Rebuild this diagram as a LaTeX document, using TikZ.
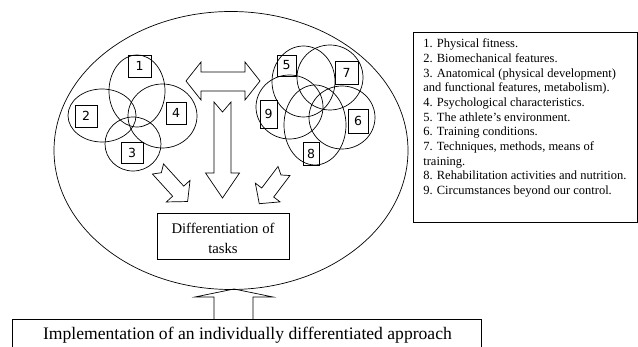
\documentclass[tikz,border=0pt]{standalone}
\usepackage{fontspec}
\setmainfont{Liberation Serif}
\newfontfamily\numfont{DejaVu Sans}
\begin{document}
\begin{tikzpicture}[x=1pt,y=-1pt,
  every path/.style={line width=0.7pt},
  numbox/.style={draw,inner sep=0pt,font=\numfont\fontsize{12.5}{12.5}\selectfont},
  ring/.style={draw},
  blockarrow/.style={draw,line join=miter},
  txtbox/.style={draw,inner sep=0pt,align=center}]
\useasboundingbox (0,0) rectangle (638,347);
% big ellipse
\draw[ring] (231,150.5) ellipse [x radius=177pt, y radius=139pt];
% left cluster numbered boxes
\node[numbox,minimum width=23pt,minimum height=22pt] (b1) at (139.5,66) {1};
\node[numbox,minimum width=22pt,minimum height=22pt] (b2) at (86,116) {2};
\node[numbox,minimum width=22pt,minimum height=21pt] (b3) at (132,152.5) {3};
\node[numbox,minimum width=20pt,minimum height=22pt] (b4) at (176,113) {4};
% right cluster numbered boxes
\node[numbox,minimum width=19pt,minimum height=21pt] (b5) at (286.5,65.5) {5};
\node[numbox,minimum width=23pt,minimum height=23pt] (b7) at (346.5,72.5) {7};
\node[numbox,minimum width=17pt,minimum height=28pt] (b9) at (268.5,114) {9};
\node[numbox,minimum width=20pt,minimum height=24pt] (b6) at (358,121) {6};
\node[numbox,minimum width=16pt,minimum height=23pt] (b8) at (311,153.5) {8};
% left cluster circles
\draw[ring] (137,91) ellipse [x radius=28pt, y radius=36pt];
\draw[ring] (102,115.5) ellipse [x radius=34pt, y radius=26.5pt];
\draw[ring] (133,144) ellipse [x radius=28pt, y radius=27pt];
\draw[ring] (162.5,116) ellipse [x radius=34.5pt, y radius=32pt];
% right cluster circles
\draw[ring] (303.5,81.5) ellipse [x radius=31.5pt, y radius=35.5pt];
\draw[ring] (330,77.5) ellipse [x radius=33pt, y radius=32.5pt];
\draw[ring] (289.5,107) ellipse [x radius=33.5pt, y radius=32pt];
\draw[ring] (315,125) ellipse [x radius=31pt, y radius=40pt];
\draw[ring] (342,117.5) ellipse [x radius=33pt, y radius=31.5pt];
% double arrow
\draw[blockarrow] (186,81) -- (201,62) -- (201,72) -- (245,72) -- (245,62) -- (260,81)
  -- (245,100) -- (245,91) -- (201,91) -- (201,100) -- cycle;
% down arrow
\draw[blockarrow,shift={(222.5,102)},rotate=-90] (0,-8.5) -- (71,-8.5) -- (71,-17) -- (96,0)
  -- (71,17) -- (71,8.5) -- (0,8.5) -- (10,0) -- cycle;
% left diagonal arrow
\draw[blockarrow,shift={(158,169)},rotate=-47.7] (0,-7.5) -- (30,-7.5) -- (30,-16) -- (44,0)
  -- (30,16) -- (30,7.5) -- (0,7.5) -- (5,0) -- cycle;
% right diagonal arrow
\draw[blockarrow,shift={(284,171)},rotate=-127.1] (0,-7.5) -- (27,-7.5) -- (27,-15.5) -- (41,0)
  -- (27,15.5) -- (27,7.5) -- (0,7.5) -- (5,0) -- cycle;
% differentiation box
\node[txtbox,minimum width=132pt,minimum height=46pt,
  font=\fontsize{14.7}{20}\selectfont] (diff) at (223,236) {};
\node[inner sep=0pt,align=center,font=\fontsize{14.7}{20}\selectfont] (difftext) at (223,238) {Differentiation of\\tasks};
% bottom box
\node[txtbox,minimum width=469pt,minimum height=30pt,
  font=\fontsize{17.6}{20}\selectfont] (impl) at (246.5,334) {};
\node[inner sep=0pt,font=\fontsize{17.6}{20}\selectfont] (impltext) at (247.5,335) {Implementation of an individually differentiated approach};
% up arrow
\draw[blockarrow] (214,319) -- (214,297) -- (195,297) -- (234,289) -- (273,297) -- (253,297) -- (253,319);
% legend
\draw (413,32) rectangle (637,222);
\node[anchor=north west,inner sep=0pt,align=left,font=\fontsize{12.5}{14.7}\selectfont] (legend) at (423,38.5)
{1. Physical fitness.\\
2. Biomechanical features.\\
3. Anatomical (physical development)\\
and functional features, metabolism).\\
4. Psychological characteristics.\\
5. The athlete\symbol{"27}s environment.\\
6. Training conditions.\\
7. Techniques, methods, means of\\
training.\\
8. Rehabilitation activities and nutrition.\\
9. Circumstances beyond our control.};
\end{tikzpicture}
\end{document}
